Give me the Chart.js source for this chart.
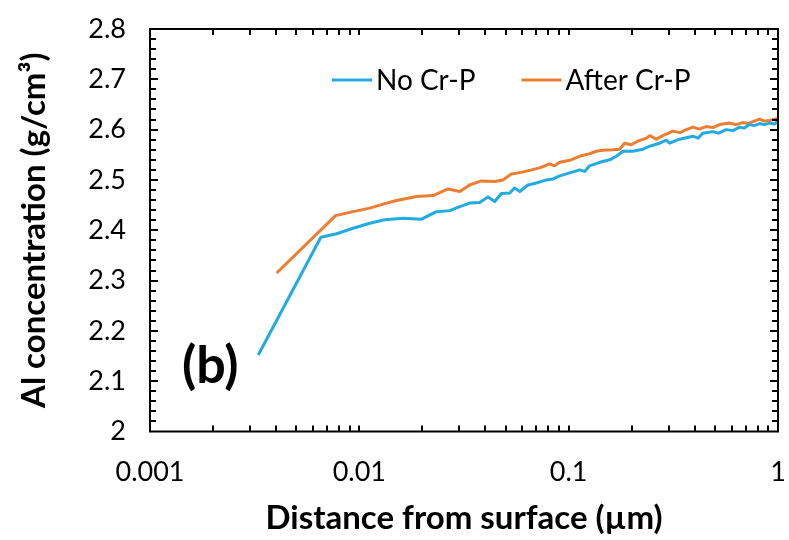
<!DOCTYPE html>
<html>
<head>
<meta charset="utf-8">
<script src="https://cdn.jsdelivr.net/npm/chart.js@4.4.1/dist/chart.umd.min.js"></script>
<style>
  html, body { margin: 0; padding: 0; background: #fff; }
  canvas { display: block; }
</style>
</head>
<body>
<canvas id="alChart" width="789" height="540"></canvas>
<script>
// Depth profiles (µm) and Al concentration (g/cm3)
const depthNoCrP = [0.00329, 0.00655, 0.00779, 0.00934, 0.01122, 0.01323, 0.01618, 0.01982, 0.02336, 0.02704,
  0.0302, 0.03365, 0.03758, 0.0412, 0.04436, 0.04775, 0.0523, 0.0552, 0.0584, 0.0639,
  0.0701, 0.0783, 0.0842, 0.0906, 0.1012, 0.1128, 0.1192, 0.1259, 0.1406, 0.157,
  0.169, 0.1816, 0.2027, 0.2264, 0.2438, 0.2719, 0.2926, 0.3034, 0.3388, 0.365,
  0.392, 0.415, 0.4375, 0.4885, 0.52, 0.566, 0.61, 0.655, 0.69, 0.731,
  0.77, 0.817, 0.86, 0.912, 0.96, 1.0];
const concNoCrP = [2.152, 2.386, 2.393, 2.404, 2.414, 2.421, 2.424, 2.422, 2.437, 2.439,
  2.447, 2.454, 2.455, 2.466, 2.457, 2.473, 2.474, 2.484, 2.477, 2.490,
  2.494, 2.500, 2.502, 2.508, 2.514, 2.520, 2.517, 2.528, 2.535, 2.540,
  2.547, 2.557, 2.557, 2.561, 2.567, 2.573, 2.579, 2.573, 2.581, 2.584,
  2.587, 2.583, 2.593, 2.596, 2.593, 2.600, 2.598, 2.605, 2.603, 2.610,
  2.608, 2.612, 2.610, 2.613, 2.611, 2.616];

const depthAfterCrP = [0.00403, 0.0077, 0.00934, 0.01122, 0.01299, 0.01505, 0.01875, 0.0225, 0.02654, 0.0302,
  0.03365, 0.0383, 0.04436, 0.04853, 0.0533, 0.0594, 0.0651, 0.0727, 0.0811, 0.0857,
  0.0906, 0.1012, 0.1128, 0.1259, 0.1356, 0.1459, 0.1626, 0.1752, 0.1849, 0.1991,
  0.214, 0.235, 0.2438, 0.2622, 0.2818, 0.3148, 0.34, 0.365, 0.392, 0.42,
  0.454, 0.49, 0.526, 0.587, 0.63, 0.679, 0.72, 0.759, 0.817, 0.86,
  0.912, 0.95, 1.0];
const concAfterCrP = [2.315, 2.429, 2.437, 2.444, 2.452, 2.459, 2.467, 2.469, 2.482, 2.477,
  2.490, 2.498, 2.497, 2.500, 2.512, 2.515, 2.519, 2.524, 2.532, 2.528,
  2.535, 2.539, 2.547, 2.552, 2.557, 2.559, 2.560, 2.561, 2.573, 2.570,
  2.577, 2.583, 2.588, 2.581, 2.588, 2.597, 2.594, 2.600, 2.605, 2.601,
  2.606, 2.604, 2.610, 2.613, 2.610, 2.614, 2.612, 2.616, 2.621, 2.617,
  2.618, 2.620, 2.623];

const xLabels = [0.001, 0.01, 0.1, 1];
const xMinorTicks = [0.002, 0.003, 0.004, 0.005, 0.006, 0.007, 0.008, 0.009,
  0.02, 0.03, 0.04, 0.05, 0.06, 0.07, 0.08, 0.09,
  0.2, 0.3, 0.4, 0.5, 0.6, 0.7, 0.8, 0.9];
const yMin = 2, yMax = 2.8, yStep = 0.1, yMinorStep = 0.02;

const FONT = "Lato, 'Open Sans', sans-serif";

const toPoints = (xs, ys) => xs.map((x, i) => ({ x: x, y: ys[i] }));

// box frame with inward ticks on all four sides
const frameTicks = {
  id: 'frameTicks',
  afterDatasetsDraw(chart) {
    const { ctx, chartArea: a, scales: { x, y } } = chart;
    ctx.save();
    ctx.strokeStyle = '#000';
    ctx.lineWidth = 2;
    ctx.beginPath();
    // y ticks, left and right
    const n = Math.round((yMax - yMin) / yMinorStep);
    for (let i = 1; i < n; i++) {
      const py = Math.round(y.getPixelForValue(yMin + i * yMinorStep));
      const len = i % 5 === 0 ? 8 : 6;
      ctx.moveTo(a.left, py); ctx.lineTo(a.left + len, py);
      ctx.moveTo(a.right, py); ctx.lineTo(a.right - len, py);
    }
    // x ticks, bottom and top
    xMinorTicks.concat(xLabels.slice(1, -1)).forEach(v => {
      const px = Math.round(x.getPixelForValue(v));
      ctx.moveTo(px, a.bottom); ctx.lineTo(px, a.bottom - 6);
      ctx.moveTo(px, a.top); ctx.lineTo(px, a.top + 6);
    });
    ctx.stroke();
    ctx.strokeRect(a.left, a.top, a.right - a.left, a.bottom - a.top);
    ctx.restore();
  }
};

// legend inside the plot, plus the panel label
const innerLegend = {
  id: 'innerLegend',
  afterDraw(chart) {
    const { ctx } = chart;
    ctx.save();
    ctx.font = '28px ' + FONT;
    ctx.textBaseline = 'middle';
    let xPos = 332;
    const yPos = 80;
    chart.data.datasets.forEach(ds => {
      ctx.strokeStyle = ds.borderColor;
      ctx.lineWidth = 3;
      ctx.beginPath();
      ctx.moveTo(xPos, yPos); ctx.lineTo(xPos + 40, yPos);
      ctx.stroke();
      ctx.fillStyle = '#000';
      ctx.fillText(ds.label, xPos + 44, yPos + 1);
      xPos += 44 + ctx.measureText(ds.label).width + 46;
    });
    ctx.font = 'bold 52px ' + FONT;
    ctx.fillText('(b)', 182, 366);
    ctx.restore();
  }
};

new Chart(document.getElementById('alChart'), {
  type: 'line',
  data: {
    datasets: [
      { label: 'No Cr-P', data: toPoints(depthNoCrP, concNoCrP), borderColor: '#22ABE2', borderWidth: 3 },
      { label: 'After Cr-P', data: toPoints(depthAfterCrP, concAfterCrP), borderColor: '#ED7D31', borderWidth: 3 }
    ]
  },
  options: {
    responsive: false,
    animation: false,
    devicePixelRatio: 1,
    parsing: false,
    layout: { padding: { top: 29, right: 11, left: 0, bottom: 0 } },
    elements: { point: { radius: 0 }, line: { tension: 0, borderJoinStyle: 'round' } },
    plugins: { legend: { display: false }, tooltip: { enabled: false } },
    scales: {
      x: {
        type: 'logarithmic',
        min: 0.001,
        max: 1,
        grid: { display: false, drawTicks: false },
        border: { display: false },
        afterBuildTicks: s => { s.ticks = xLabels.map(v => ({ value: v })); },
        afterFit: s => { s.height = 108.5; s.paddingLeft = 0; s.paddingRight = 0; },
        ticks: {
          autoSkip: false,
          maxRotation: 0,
          padding: 25,
          color: '#000',
          font: { family: FONT, size: 27 },
          callback: v => String(v)
        },
        title: {
          display: true,
          text: 'Distance from surface (µm)',
          color: '#000',
          font: { family: FONT, size: 33, weight: 'bold' },
          padding: { top: 0, bottom: 2 }
        }
      },
      y: {
        min: yMin,
        max: yMax,
        grid: { display: false, drawTicks: false },
        border: { display: false },
        afterFit: s => { s.width = 150; s.paddingTop = 0; s.paddingBottom = 0; },
        ticks: {
          stepSize: yStep,
          padding: 24,
          color: '#000',
          font: { family: FONT, size: 27 },
          callback: v => String(+v.toFixed(1))
        },
        title: {
          display: true,
          text: 'Al concentration (g/cm³)',
          color: '#000',
          font: { family: FONT, size: 33, weight: 'bold' },
          padding: { top: 15, bottom: 0 }
        }
      }
    }
  },
  plugins: [frameTicks, innerLegend]
});
</script>
</body>
</html>
